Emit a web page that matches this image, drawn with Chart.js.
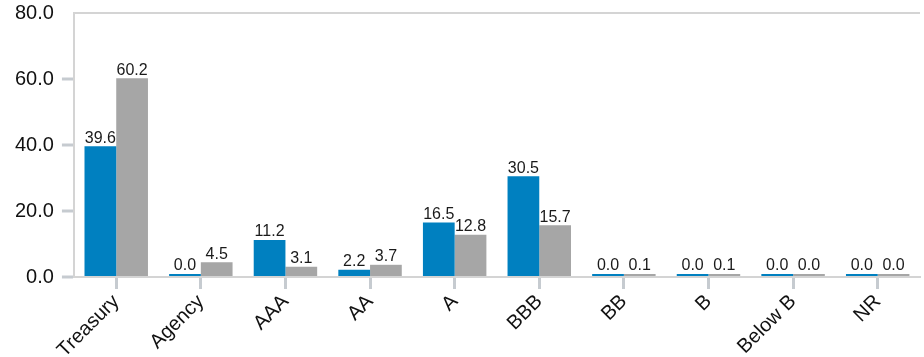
<!DOCTYPE html>
<html lang="en">
<head>
    <meta charset="UTF-8">
    <title>Credit Quality</title>
    <script src="https://cdn.jsdelivr.net/npm/chart.js"></script>
</head>
<body>
<div class="chart-box">
    <canvas id="qualityChart"></canvas>
</div>

<script>
    // Chart data
    const categories = ['Treasury', 'Agency', 'AAA', 'AA', 'A', 'BBB', 'BB', 'B', 'Below B', 'NR'];
    const portfolioValues = [39.6, 0.0, 11.2, 2.2, 16.5, 30.5, 0.0, 0.0, 0.0, 0.0];
    const benchmarkValues = [60.2, 4.5, 3.1, 3.7, 12.8, 15.7, 0.1, 0.1, 0.0, 0.0];
    const yTicks = [0, 20, 40, 60, 80];

    // Draws the value above each bar
    const barValueLabels = {
        id: 'barValueLabels',
        afterDatasetsDraw(chart) {
            const ctx = chart.ctx;
            ctx.save();
            ctx.font = '16px "Liberation Sans", Arial, sans-serif';
            ctx.fillStyle = '#1a1a1a';
            ctx.textAlign = 'center';
            ctx.textBaseline = 'bottom';
            chart.data.datasets.forEach((ds, i) => {
                chart.getDatasetMeta(i).data.forEach((bar, j) => {
                    const top = Math.min(bar.y, bar.base);
                    ctx.fillText(ds.data[j].toFixed(1), bar.x, top);
                });
            });
            ctx.restore();
        }
    };

    const ctx = document.getElementById('qualityChart').getContext('2d');
    new Chart(ctx, {
        type: 'bar',
        data: {
            labels: categories,
            datasets: [
                {
                    label: 'Portfolio',
                    data: portfolioValues,
                    backgroundColor: '#0080C0',
                    minBarLength: 3
                },
                {
                    label: 'Benchmark',
                    data: benchmarkValues,
                    backgroundColor: '#A6A6A6',
                    minBarLength: 3
                }
            ]
        },
        options: {
            responsive: true,
            maintainAspectRatio: false,
            animation: false,
            categoryPercentage: 0.75,
            barPercentage: 1.0,
            layout: { padding: { left: 7, right: 4, top: 13, bottom: 0 } },
            plugins: {
                legend: { display: false },
                tooltip: { enabled: false }
            },
            scales: {
                x: {
                    afterFit: (axis) => { axis.height = 80; },
                    border: { display: true, color: '#d4d4d4', width: 2 },
                    grid: {
                        display: true,
                        drawOnChartArea: false,
                        offset: false,
                        tickLength: 12,
                        tickColor: '#c6cbd0',
                        tickWidth: 3
                    },
                    ticks: {
                        minRotation: 45,
                        maxRotation: 45,
                        padding: 1,
                        color: '#111',
                        font: { family: '"Liberation Sans", Arial, sans-serif', size: 20 }
                    }
                },
                y: {
                    min: 0,
                    max: 80,
                    afterBuildTicks: (axis) => {
                        axis.ticks = yTicks.map(v => ({ value: v }));
                    },
                    afterFit: (axis) => { axis.paddingTop = 0; axis.paddingBottom = 0; },
                    border: { display: true, color: '#d4d4d4', width: 2 },
                    grid: {
                        drawOnChartArea: true,
                        color: (c) => (c.tick && c.tick.value === 80 ? '#d4d4d4' : 'rgba(0,0,0,0)'),
                        lineWidth: 2,
                        tickLength: 12,
                        tickColor: (c) => (c.tick && c.tick.value === 80 ? 'rgba(0,0,0,0)' : '#c6cbd0'),
                        tickWidth: 3
                    },
                    ticks: {
                        padding: 8,
                        color: '#111',
                        font: { family: '"Liberation Sans", Arial, sans-serif', size: 20 },
                        callback: (v) => Number(v).toFixed(1)
                    }
                }
            }
        },
        plugins: [barValueLabels]
    });
</script>

<style>
    body {
        margin: 0;
        background-color: white;
    }

    .chart-box {
        position: relative;
        width: 924px;
        height: 357px;
    }
</style>
</body>
</html>
